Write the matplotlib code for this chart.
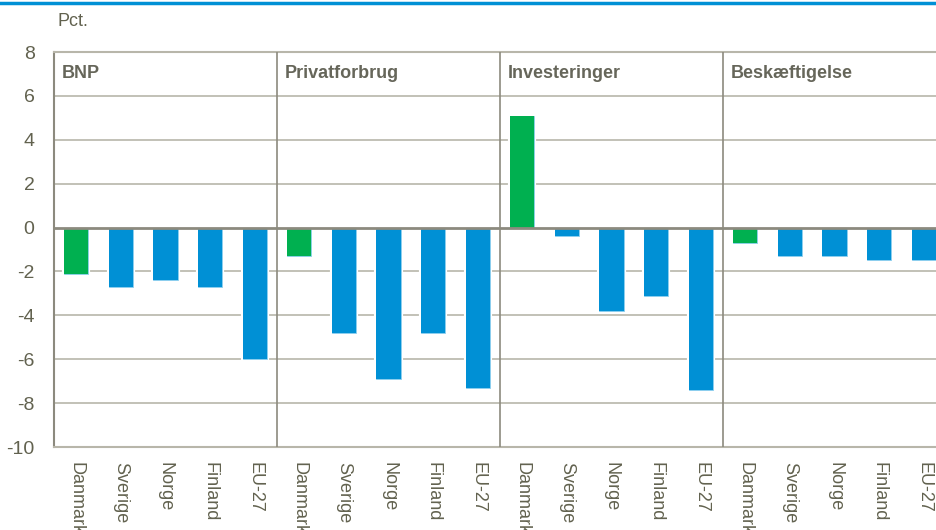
import matplotlib
matplotlib.use("Agg")
import matplotlib.pyplot as plt
from matplotlib.lines import Line2D

plt.rcParams['font.family'] = ['Liberation Sans', 'DejaVu Sans']

panels = ["BNP", "Privatforbrug", "Investeringer", "Beskæftigelse"]
countries = ["Danmark", "Sverige", "Norge", "Finland", "EU-27"]
bnp = [-2.1, -2.7, -2.4, -2.7, -6.0]
privatforbrug = [-1.3, -4.8, -6.9, -4.8, -7.3]
investeringer = [5.1, -0.4, -3.8, -3.1, -7.4]
beskaeftigelse = [-0.7, -1.3, -1.3, -1.5, -1.5]
yticks = [-10, -8, -6, -4, -2, 0, 2, 4, 6, 8]

series = [bnp, privatforbrug, investeringer, beskaeftigelse]
green = "#00b050"
blue = "#0090d5"
grid_c = "#b8b6aa"
dark_c = "#8c8a7e"
text_c = "#62624f"

W, H = 937, 530
fig = plt.figure(figsize=(W / 100, H / 100), dpi=100)
left, right, top, bottom = 54, 946, 52, 447
ax = fig.add_axes([left / W, 1 - bottom / H, (right - left) / W, (bottom - top) / H])

n = len(countries)
xs, vals, cols, labels = [], [], [], []
for p, s in enumerate(series):
    for i, v in enumerate(s):
        xs.append(p * n + i)
        vals.append(v)
        cols.append(green if i == 0 else blue)
        labels.append(countries[i])

ax.set_xlim(-0.5, len(xs) - 0.5)
ax.set_ylim(-10, 8)

for y in yticks:
    if y in (-10, 8, 0):
        continue
    ax.axhline(y, color=grid_c, lw=1.2, zorder=1)

# white halo around bars to interrupt gridlines
ax.bar(xs, vals, width=0.54, color="white", edgecolor="white", lw=3, zorder=2)
ax.bar(xs, vals, width=0.54, color=cols, edgecolor="#8fd0f0", lw=0.6, zorder=3)
ax.bar(xs, vals, width=0.54, color=cols, lw=0, zorder=3)

ax.axhline(0, color=dark_c, lw=2, zorder=4)
for p in range(1, len(panels)):
    ax.axvline(p * n - 0.5, color=dark_c, lw=1.2, zorder=4)

for sp in ["top", "bottom", "left"]:
    ax.spines[sp].set_color(grid_c if sp != "left" else dark_c)
    ax.spines[sp].set_linewidth(1.5)
ax.spines["right"].set_visible(False)

ax.set_yticks(yticks)
ax.set_yticklabels([str(t) for t in yticks], fontsize=14, color=text_c)
ax.tick_params(axis="y", length=0, pad=14)
ax.set_xticks(xs)
ax.set_xticklabels(labels, rotation=270, fontsize=13, color=text_c, va="top", ha="center")
ax.tick_params(axis="x", length=0, pad=11)

for p, name in enumerate(panels):
    ax.text(p * n - 0.5 + 0.18, 7.0, name, fontsize=13, fontweight="bold",
            color="#66665a", ha="left", va="center")

fig.text(58 / W, 1 - 21 / H, "Pct.", fontsize=13, color=text_c, ha="left", va="center")
fig.add_artist(Line2D([0, 1], [1 - 3 / H, 1 - 3 / H], color="#0090d5", lw=2.5,
                      transform=fig.transFigure))

fig.savefig("out.png", dpi=100)
